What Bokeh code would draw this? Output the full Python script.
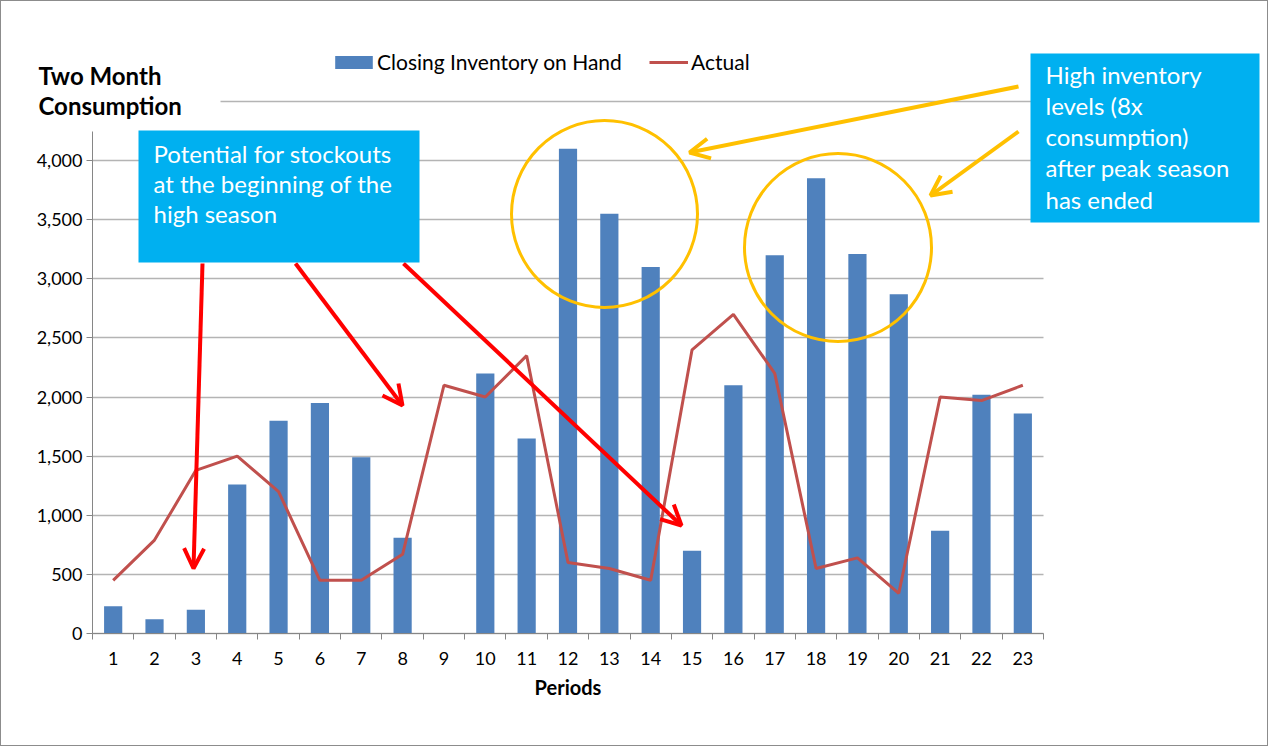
import numpy as np
from bokeh.plotting import figure
from bokeh.models import (Range1d, FixedTicker, NumeralTickFormatter, Legend, LegendItem,
                          Label, BoxAnnotation, Arrow, OpenHead, ColumnDataSource, Grid)
from bokeh.embed import file_html
from bokeh.resources import INLINE

# ---------------- data ----------------
periods = list(range(1, 24))
closing_inventory = [230, 120, 200, 1260, 1800, 1950, 1490, 810, 0, 2200, 1650, 4100,
                     3550, 3100, 700, 2100, 3200, 3850, 3210, 2870, 870, 2020, 1860]
actual = [450, 790, 1380, 1500, 1200, 450, 450, 670, 2100, 2000, 2350, 600,
          550, 450, 2400, 2700, 2200, 550, 640, 340, 2000, 1970, 2100]
y_ticks = [0, 500, 1000, 1500, 2000, 2500, 3000, 3500, 4000, 4500]
series_names = ["Closing Inventory on Hand", "Actual"]
y_title = "Two Month\nConsumption"
x_title = "Periods"
note_left = "Potential for stockouts\nat the beginning  of the\nhigh season"
note_right = "High inventory\nlevels (8x\nconsumption)\nafter peak season\nhas ended"

# ---------------- geometry (page pixels) ----------------
W, H = 1268, 746
OFF = 1                      # canvas offset on the page (css border)
FL, FR, FT, FB = 92, 1043, 101, 633   # visible plot area on the page
X0, X1 = 0.5, 23.5
Y0, Y1 = 0, 4500


def dx(px):
    return X0 + (px - FL) * (X1 - X0) / (FR - FL)


def dy(py):
    return Y0 + (FB - py) * (Y1 - Y0) / (FB - FT)


def dw(px):
    return px * (X1 - X0) / (FR - FL)


def dh(px):
    return px * (Y1 - Y0) / (FB - FT)


FONT = "Lato"
BLUE = "#4F81BD"
RED = "#C0504D"
CYAN = "#00B0F0"
GOLD = "#FFC000"
AXIS = "#868686"

# the frame covers the whole canvas; axes sit at fixed data locations
p = figure(width=W, height=H,
           x_range=Range1d(dx(OFF), dx(OFF + W)), y_range=Range1d(dy(OFF + H), dy(OFF)),
           output_backend="svg", toolbar_location=None,
           min_border_left=0, min_border_right=0, min_border_top=0, min_border_bottom=0)
p.outline_line_color = None
p.background_fill_color = "white"
p.border_fill_color = "white"
p.styles = {"border": "1px solid #8c8c8c"}

src = ColumnDataSource(dict(period=periods, inventory=closing_inventory, actual=actual))

y_ticker = FixedTicker(ticks=y_ticks)

# grid
p.xgrid.visible = False
p.ygrid.ticker = y_ticker
p.ygrid.bounds = (Y0, Y1)
p.ygrid.grid_line_color = "#B4B4B4"
p.ygrid.grid_line_width = 1.3
if "cross_bounds" in Grid.properties():
    p.ygrid.cross_bounds = (X0, X1)
else:
    p.ygrid.visible = False
    p.segment(x0=X0, x1=X1, y0=y_ticks, y1=y_ticks, line_color="#B4B4B4", line_width=1.3)

bars = p.vbar(x="period", top="inventory", width=0.44, source=src,
              fill_color=BLUE, line_color=None)
line = p.line(x="period", y="actual", source=src, line_color=RED, line_width=3)

# y axis
yax = p.yaxis[0]
yax.fixed_location = X0
yax.bounds = (Y0, Y1)
yax.ticker = y_ticker
yax.formatter = NumeralTickFormatter(format="0,0")
yax.major_label_overrides = {4500: ""}
yax.axis_line_color = AXIS
yax.major_tick_line_color = AXIS
yax.major_tick_out = 6
yax.major_tick_in = 0
yax.minor_tick_line_color = None
yax.major_label_standoff = 4
yax.major_label_text_font = FONT
yax.major_label_text_font_size = "18px"
yax.major_label_text_color = "black"

# x axis
xax = p.xaxis[0]
xax.fixed_location = Y0
xax.bounds = (X0, X1)
xax.ticker = FixedTicker(ticks=periods, minor_ticks=[i + 0.5 for i in range(0, 24)])
xax.axis_line_color = AXIS
xax.major_tick_line_color = None
xax.major_tick_out = 0
xax.major_tick_in = 0
xax.minor_tick_line_color = AXIS
xax.minor_tick_out = 6
xax.minor_tick_in = 0
xax.major_label_standoff = 12
xax.major_label_text_font = FONT
xax.major_label_text_font_size = "18px"
xax.major_label_text_color = "black"
xax.axis_label = x_title
xax.axis_label_text_font = FONT
xax.axis_label_text_font_size = "20px"
xax.axis_label_text_font_style = "bold"
xax.axis_label_text_color = "black"
xax.axis_label_standoff = 7

# legends
LEG_BOTTOM = 74
leg1 = Legend(items=[LegendItem(label=series_names[0], renderers=[bars])],
              location=(330 - OFF, OFF + H - LEG_BOTTOM), orientation="horizontal",
              glyph_width=47, glyph_height=16, label_standoff=0, padding=0, margin=0,
              border_line_color=None, background_fill_alpha=0,
              label_text_font=FONT, label_text_font_size="21px", label_text_color="black")
leg2 = Legend(items=[LegendItem(label=series_names[1], renderers=[line])],
              location=(649 - OFF, OFF + H - LEG_BOTTOM), orientation="horizontal",
              glyph_width=39, glyph_height=16, label_standoff=3, padding=0, margin=0,
              border_line_color=None, background_fill_alpha=0,
              label_text_font=FONT, label_text_font_size="21px", label_text_color="black")
p.add_layout(leg1)
p.add_layout(leg2)

# circles
p.ellipse(x=[dx(604), dx(837.5)], y=[dy(213.5), dy(247)], width=[dw(186), dw(187)],
          height=[dh(187), dh(188)], fill_color=None, line_color=GOLD, line_width=3)

# red arrows
for (x0, y0, x1, y1) in [(202, 263, 193, 568), (295, 263, 402, 405), (403, 263, 681, 525)]:
    p.add_layout(Arrow(x_start=dx(x0), y_start=dy(y0), x_end=dx(x1), y_end=dy(y1),
                       line_color="#FF0000", line_width=4, level="overlay",
                       end=OpenHead(size=20, line_color="#FF0000", line_width=4)))
# gold arrows
for (x0, y0, x1, y1) in [(1018, 86, 689, 152), (1018, 131, 930, 195)]:
    p.add_layout(Arrow(x_start=dx(x0), y_start=dy(y0), x_end=dx(x1), y_end=dy(y1),
                       line_color=GOLD, line_width=4, level="overlay",
                       end=OpenHead(size=20, line_color=GOLD, line_width=4)))

# title area (white backing hides the top tick)
p.add_layout(BoxAnnotation(left=dx(25), right=dx(220), top=dy(48), bottom=dy(131),
                           fill_color="white", fill_alpha=1, line_color=None, level="overlay"))
p.add_layout(Label(x=dx(38), y=dy(60), text=y_title, text_font=FONT, text_font_size="24px",
                   text_font_style="bold", text_color="black", text_baseline="top",
                   text_align="left", text_line_height=1.04, level="overlay"))

# note boxes
p.add_layout(BoxAnnotation(left=dx(138), right=dx(419), top=dy(130), bottom=dy(262),
                           fill_color=CYAN, fill_alpha=1, line_color=None, level="overlay"))
p.add_layout(BoxAnnotation(left=dx(1030), right=dx(1259), top=dy(53), bottom=dy(222),
                           fill_color=CYAN, fill_alpha=1, line_color=None, level="overlay"))
p.add_layout(Label(x=dx(153), y=dy(138), text=note_left, text_font=FONT, text_font_size="24px",
                   text_color="white", text_baseline="top", text_align="left",
                   text_line_height=1.04, level="overlay"))
p.add_layout(Label(x=dx(1045), y=dy(59), text=note_right, text_font=FONT, text_font_size="24px",
                   text_color="white", text_baseline="top", text_align="left",
                   text_line_height=1.08, level="overlay"))

open("out.html", "w").write(file_html(p, INLINE))
